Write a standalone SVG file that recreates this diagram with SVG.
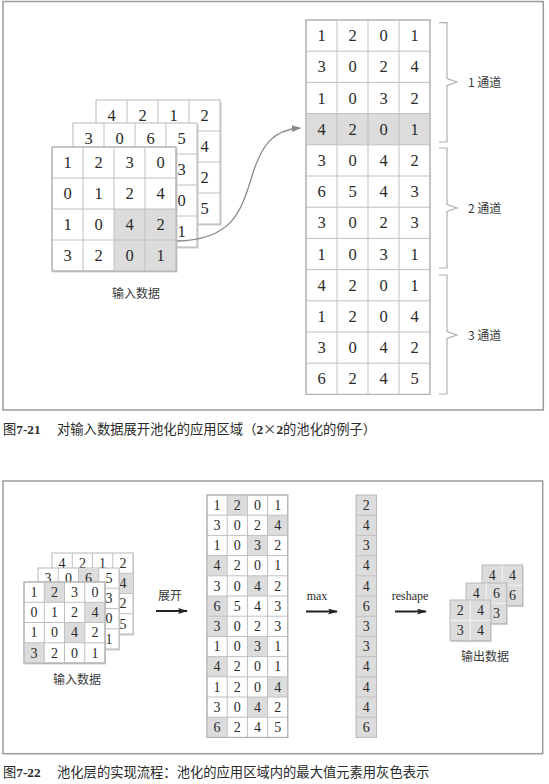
<svg xmlns="http://www.w3.org/2000/svg" width="549" height="784" viewBox="0 0 549 784">
<style>
.bg{fill:#fff}
.frame{fill:none;stroke:#9a9a9a;stroke-width:1.5}
.grid{fill:#fff;stroke:#b8b8b8;stroke-width:1}
.gl{fill:none;stroke:#c0c0c0;stroke-width:1}
.sh{fill:#cfcfcf}
.gray{fill:#dcdcdc}
.d{font-family:"Liberation Serif",serif;font-size:16.5px;text-anchor:middle;fill:#2a2a2a}
.ds{font-family:"Liberation Serif",serif;font-size:14px;text-anchor:middle;fill:#2a2a2a}
.lbl{font-family:"Noto Sans CJK SC",sans-serif;font-size:12px;fill:#3a3a3a}
.lc{text-anchor:middle}
.sl{font-family:"Liberation Serif",serif;font-size:12px;text-anchor:middle;fill:#2a2a2a}
.brace{fill:none;stroke:#b0b0b0;stroke-width:1.2}
.cap{font-family:"Noto Sans CJK SC",sans-serif;font-size:13.3px;fill:#2a2a2a}
.capn{font-family:"Liberation Serif",serif;font-weight:bold}
.arr{stroke:#222;stroke-width:2;fill:none}
</style>
<defs>
<marker id="ah" markerWidth="10" markerHeight="6" refX="9" refY="3" orient="auto" markerUnits="userSpaceOnUse">
<path d="M0,0 L10,3 L0,6 L2,3 z" fill="#222"/>
</marker>
<marker id="ahg" markerWidth="9" markerHeight="7" refX="8" refY="3.5" orient="auto" markerUnits="userSpaceOnUse">
<path d="M0,0 L9,3.5 L0,7 z" fill="#8a8a8a"/>
</marker>
</defs>
<rect class="bg" x="0" y="0" width="549" height="784"/>
<rect class="frame" x="3" y="1.5" width="540.3" height="408.5"/>
<rect class="frame" x="3" y="481" width="539.7" height="272.7"/>

<!-- ===== Figure 7-21 ===== -->
<g id="input-stack-top">
  <g id="in1-ch3">
    <rect class="sh" x="97.5" y="101.5" width="124" height="124"/>
    <rect class="grid" x="96" y="100" width="124" height="124"/>
    <path class="gl" d="M127,100V224M158,100V224M189,100V224M96,131H220M96,162H220M96,193H220"/>
    <text class="d" x="111.5" y="121">4</text><text class="d" x="142.5" y="121">2</text><text class="d" x="173.5" y="121">1</text><text class="d" x="204.5" y="121">2</text>
    <text class="d" x="204.5" y="152">4</text><text class="d" x="204.5" y="183">2</text><text class="d" x="204.5" y="214">5</text>
  </g>
  <g id="in1-ch2">
    <rect class="sh" x="74.5" y="124.5" width="124" height="124"/>
    <rect class="grid" x="73" y="123" width="124" height="124"/>
    <path class="gl" d="M104,123V247M135,123V247M166,123V247M73,154H197M73,185H197M73,216H197"/>
    <text class="d" x="88.5" y="144">3</text><text class="d" x="119.5" y="144">0</text><text class="d" x="150.5" y="144">6</text><text class="d" x="181.5" y="144">5</text>
    <text class="d" x="181.5" y="175">3</text><text class="d" x="181.5" y="206">0</text><text class="d" x="181.5" y="237">1</text>
  </g>
  <g id="in1-ch1">
    <rect class="sh" x="53.5" y="148.5" width="124" height="124"/>
    <rect class="grid" x="52" y="147" width="124" height="124"/>
    <rect class="gray" x="114" y="209" width="62" height="62"/>
    <path class="gl" d="M83,147V271M114,147V271M145,147V271M52,178H176M52,209H176M52,240H176"/>
    <rect x="52" y="147" width="124" height="124" fill="none" stroke="#b0b0b0"/>
    <text class="d" x="67.5" y="168">1</text><text class="d" x="98.5" y="168">2</text><text class="d" x="129.5" y="168">3</text><text class="d" x="160.5" y="168">0</text>
    <text class="d" x="67.5" y="199">0</text><text class="d" x="98.5" y="199">1</text><text class="d" x="129.5" y="199">2</text><text class="d" x="160.5" y="199">4</text>
    <text class="d" x="67.5" y="230">1</text><text class="d" x="98.5" y="230">0</text><text class="d" x="129.5" y="230">4</text><text class="d" x="160.5" y="230">2</text>
    <text class="d" x="67.5" y="261">3</text><text class="d" x="98.5" y="261">2</text><text class="d" x="129.5" y="261">0</text><text class="d" x="160.5" y="261">1</text>
  </g>
  <text class="lbl lc" x="136" y="298">输入数据</text>
</g>

<g id="col-matrix-top">
  <rect class="grid" x="306" y="20" width="124" height="374.4"/>
  <rect class="gray" x="306" y="113.6" width="124" height="31.2"/>
  <path class="gl" d="M337,20V394.4M368,20V394.4M399,20V394.4M306,51.2H430M306,82.4H430M306,113.6H430M306,144.8H430M306,176H430M306,207.2H430M306,238.4H430M306,269.6H430M306,300.8H430M306,332H430M306,363.2H430"/>
  <rect x="306" y="20" width="124" height="374.4" fill="none" stroke="#b0b0b0"/>
  <text class="d" x="321.5" y="41.1">1</text><text class="d" x="352.5" y="41.1">2</text><text class="d" x="383.5" y="41.1">0</text><text class="d" x="414.5" y="41.1">1</text>
  <text class="d" x="321.5" y="72.3">3</text><text class="d" x="352.5" y="72.3">0</text><text class="d" x="383.5" y="72.3">2</text><text class="d" x="414.5" y="72.3">4</text>
  <text class="d" x="321.5" y="103.5">1</text><text class="d" x="352.5" y="103.5">0</text><text class="d" x="383.5" y="103.5">3</text><text class="d" x="414.5" y="103.5">2</text>
  <text class="d" x="321.5" y="134.7">4</text><text class="d" x="352.5" y="134.7">2</text><text class="d" x="383.5" y="134.7">0</text><text class="d" x="414.5" y="134.7">1</text>
  <text class="d" x="321.5" y="165.9">3</text><text class="d" x="352.5" y="165.9">0</text><text class="d" x="383.5" y="165.9">4</text><text class="d" x="414.5" y="165.9">2</text>
  <text class="d" x="321.5" y="197.1">6</text><text class="d" x="352.5" y="197.1">5</text><text class="d" x="383.5" y="197.1">4</text><text class="d" x="414.5" y="197.1">3</text>
  <text class="d" x="321.5" y="228.3">3</text><text class="d" x="352.5" y="228.3">0</text><text class="d" x="383.5" y="228.3">2</text><text class="d" x="414.5" y="228.3">3</text>
  <text class="d" x="321.5" y="259.5">1</text><text class="d" x="352.5" y="259.5">0</text><text class="d" x="383.5" y="259.5">3</text><text class="d" x="414.5" y="259.5">1</text>
  <text class="d" x="321.5" y="290.7">4</text><text class="d" x="352.5" y="290.7">2</text><text class="d" x="383.5" y="290.7">0</text><text class="d" x="414.5" y="290.7">1</text>
  <text class="d" x="321.5" y="321.9">1</text><text class="d" x="352.5" y="321.9">2</text><text class="d" x="383.5" y="321.9">0</text><text class="d" x="414.5" y="321.9">4</text>
  <text class="d" x="321.5" y="353.1">3</text><text class="d" x="352.5" y="353.1">0</text><text class="d" x="383.5" y="353.1">4</text><text class="d" x="414.5" y="353.1">2</text>
  <text class="d" x="321.5" y="384.3">6</text><text class="d" x="352.5" y="384.3">2</text><text class="d" x="383.5" y="384.3">4</text><text class="d" x="414.5" y="384.3">5</text>
</g>

<g id="brace-ch1">
  <path class="brace" d="M439,22.7H447V78.5L457,82L447,85.5V142H439"/>
  <text class="lbl" x="468" y="86.5">1 通道</text>
</g>
<g id="brace-ch2">
  <path class="brace" d="M439,148H447V204.5L457,208L447,211.5V268H439"/>
  <text class="lbl" x="468" y="212.5">2 通道</text>
</g>
<g id="brace-ch3">
  <path class="brace" d="M439,275H447V331.5L457,335L447,338.5V394H439"/>
  <text class="lbl" x="468" y="339.5">3 通道</text>
</g>

<text class="cap" x="3" y="434">图<tspan class="capn">7-21</tspan><tspan x="57">对输入数据展开池化的应用区域（</tspan><tspan font-family="Liberation Serif" font-weight="bold">2</tspan>×<tspan font-family="Liberation Serif" font-weight="bold">2</tspan>的池化的例子）</text>

<!-- ===== Figure 7-22 ===== -->
<g id="input-stack-bottom">
  <g id="in2-ch3">
    <rect class="sh" x="53" y="554.5" width="81" height="81"/>
    <rect class="grid" x="52" y="553" width="81" height="81"/>
    <rect class="gray" x="112.75" y="573.25" width="20.25" height="20.25"/>
    <path class="gl" d="M72.25,553V634M92.5,553V634M112.75,553V634M52,573.25H133M52,593.5H133M52,613.75H133"/>
    <text class="ds" x="62.1" y="567.8">4</text><text class="ds" x="82.4" y="567.8">2</text><text class="ds" x="102.6" y="567.8">1</text><text class="ds" x="122.9" y="567.8">2</text>
    <text class="ds" x="122.9" y="588.1">4</text><text class="ds" x="122.9" y="608.3">2</text><text class="ds" x="122.9" y="628.6">5</text>
  </g>
  <g id="in2-ch2">
    <rect class="sh" x="39" y="569.5" width="81" height="81"/>
    <rect class="grid" x="38" y="568" width="81" height="81"/>
    <rect class="gray" x="78.5" y="568" width="20.25" height="20.25"/>
    <path class="gl" d="M58.25,568V649M78.5,568V649M98.75,568V649M38,588.25H119M38,608.5H119M38,628.75H119"/>
    <text class="ds" x="48.1" y="582.8">3</text><text class="ds" x="68.4" y="582.8">0</text><text class="ds" x="88.6" y="582.8">6</text><text class="ds" x="108.9" y="582.8">5</text>
    <text class="ds" x="108.9" y="603.1">3</text><text class="ds" x="108.9" y="623.3">0</text><text class="ds" x="108.9" y="643.6">1</text>
  </g>
  <g id="in2-ch1">
    <rect class="sh" x="25" y="583.5" width="81" height="81"/>
    <rect class="grid" x="24" y="582" width="81" height="81"/>
    <rect class="gray" x="44.25" y="582" width="20.25" height="20.25"/>
    <rect class="gray" x="84.75" y="602.25" width="20.25" height="20.25"/>
    <rect class="gray" x="64.5" y="622.5" width="20.25" height="20.25"/>
    <rect class="gray" x="24" y="642.75" width="20.25" height="20.25"/>
    <path class="gl" d="M44.25,582V663M64.5,582V663M84.75,582V663M24,602.25H105M24,622.5H105M24,642.75H105"/>
    <rect x="24" y="582" width="81" height="81" fill="none" stroke="#b0b0b0"/>
    <text class="ds" x="34.1" y="596.8">1</text><text class="ds" x="54.4" y="596.8">2</text><text class="ds" x="74.6" y="596.8">3</text><text class="ds" x="94.9" y="596.8">0</text>
    <text class="ds" x="34.1" y="617.1">0</text><text class="ds" x="54.4" y="617.1">1</text><text class="ds" x="74.6" y="617.1">2</text><text class="ds" x="94.9" y="617.1">4</text>
    <text class="ds" x="34.1" y="637.3">1</text><text class="ds" x="54.4" y="637.3">0</text><text class="ds" x="74.6" y="637.3">4</text><text class="ds" x="94.9" y="637.3">2</text>
    <text class="ds" x="34.1" y="657.6">3</text><text class="ds" x="54.4" y="657.6">2</text><text class="ds" x="74.6" y="657.6">0</text><text class="ds" x="94.9" y="657.6">1</text>
  </g>
  <text class="lbl lc" x="77" y="683.5">输入数据</text>
</g>

<g id="col-matrix-bottom">
  <rect class="grid" x="207" y="495" width="80.8" height="242.4"/>
  <rect class="gray" x="227.2" y="495" width="20.2" height="20.2"/>
  <rect class="gray" x="267.6" y="515.2" width="20.2" height="20.2"/>
  <rect class="gray" x="247.4" y="535.4" width="20.2" height="20.2"/>
  <rect class="gray" x="207" y="555.6" width="20.2" height="20.2"/>
  <rect class="gray" x="247.4" y="575.8" width="20.2" height="20.2"/>
  <rect class="gray" x="207" y="596" width="20.2" height="20.2"/>
  <rect class="gray" x="207" y="616.2" width="20.2" height="20.2"/>
  <rect class="gray" x="247.4" y="636.4" width="20.2" height="20.2"/>
  <rect class="gray" x="207" y="656.6" width="20.2" height="20.2"/>
  <rect class="gray" x="267.6" y="676.8" width="20.2" height="20.2"/>
  <rect class="gray" x="247.4" y="697" width="20.2" height="20.2"/>
  <rect class="gray" x="207" y="717.2" width="20.2" height="20.2"/>
  <path class="gl" d="M227.2,495V737.4M247.4,495V737.4M267.6,495V737.4M207,515.2H287.8M207,535.4H287.8M207,555.6H287.8M207,575.8H287.8M207,596H287.8M207,616.2H287.8M207,636.4H287.8M207,656.6H287.8M207,676.8H287.8M207,697H287.8M207,717.2H287.8"/>
  <rect x="207" y="495" width="80.8" height="242.4" fill="none" stroke="#b0b0b0"/>
  <text class="ds" x="217.1" y="509.8">1</text><text class="ds" x="237.3" y="509.8">2</text><text class="ds" x="257.5" y="509.8">0</text><text class="ds" x="277.7" y="509.8">1</text>
  <text class="ds" x="217.1" y="530">3</text><text class="ds" x="237.3" y="530">0</text><text class="ds" x="257.5" y="530">2</text><text class="ds" x="277.7" y="530">4</text>
  <text class="ds" x="217.1" y="550.2">1</text><text class="ds" x="237.3" y="550.2">0</text><text class="ds" x="257.5" y="550.2">3</text><text class="ds" x="277.7" y="550.2">2</text>
  <text class="ds" x="217.1" y="570.4">4</text><text class="ds" x="237.3" y="570.4">2</text><text class="ds" x="257.5" y="570.4">0</text><text class="ds" x="277.7" y="570.4">1</text>
  <text class="ds" x="217.1" y="590.6">3</text><text class="ds" x="237.3" y="590.6">0</text><text class="ds" x="257.5" y="590.6">4</text><text class="ds" x="277.7" y="590.6">2</text>
  <text class="ds" x="217.1" y="610.8">6</text><text class="ds" x="237.3" y="610.8">5</text><text class="ds" x="257.5" y="610.8">4</text><text class="ds" x="277.7" y="610.8">3</text>
  <text class="ds" x="217.1" y="631">3</text><text class="ds" x="237.3" y="631">0</text><text class="ds" x="257.5" y="631">2</text><text class="ds" x="277.7" y="631">3</text>
  <text class="ds" x="217.1" y="651.2">1</text><text class="ds" x="237.3" y="651.2">0</text><text class="ds" x="257.5" y="651.2">3</text><text class="ds" x="277.7" y="651.2">1</text>
  <text class="ds" x="217.1" y="671.4">4</text><text class="ds" x="237.3" y="671.4">2</text><text class="ds" x="257.5" y="671.4">0</text><text class="ds" x="277.7" y="671.4">1</text>
  <text class="ds" x="217.1" y="691.6">1</text><text class="ds" x="237.3" y="691.6">2</text><text class="ds" x="257.5" y="691.6">0</text><text class="ds" x="277.7" y="691.6">4</text>
  <text class="ds" x="217.1" y="711.8">3</text><text class="ds" x="237.3" y="711.8">0</text><text class="ds" x="257.5" y="711.8">4</text><text class="ds" x="277.7" y="711.8">2</text>
  <text class="ds" x="217.1" y="732">6</text><text class="ds" x="237.3" y="732">2</text><text class="ds" x="257.5" y="732">4</text><text class="ds" x="277.7" y="732">5</text>
</g>

<g id="max-vector">
  <rect class="gray" x="356" y="495" width="20.5" height="242.4" stroke="#b8b8b8"/>
  <path class="gl" d="M356,515.2H376.5M356,535.4H376.5M356,555.6H376.5M356,575.8H376.5M356,596H376.5M356,616.2H376.5M356,636.4H376.5M356,656.6H376.5M356,676.8H376.5M356,697H376.5M356,717.2H376.5" stroke="#f4f4f4"/>
  <text class="ds" x="366.25" y="509.8">2</text>
  <text class="ds" x="366.25" y="530">4</text>
  <text class="ds" x="366.25" y="550.2">3</text>
  <text class="ds" x="366.25" y="570.4">4</text>
  <text class="ds" x="366.25" y="590.6">4</text>
  <text class="ds" x="366.25" y="610.8">6</text>
  <text class="ds" x="366.25" y="631">3</text>
  <text class="ds" x="366.25" y="651.2">3</text>
  <text class="ds" x="366.25" y="671.4">4</text>
  <text class="ds" x="366.25" y="691.6">4</text>
  <text class="ds" x="366.25" y="711.8">4</text>
  <text class="ds" x="366.25" y="732">6</text>
</g>

<g id="output-stack">
  <g id="out-ch3">
    <rect class="sh" x="483" y="566.5" width="40.6" height="40.6"/>
    <rect class="gray" x="482" y="565" width="40.6" height="40.6" stroke="#b8b8b8"/>
    <path d="M502.3,565V605.6M482,585.3H522.6" stroke="#f4f4f4" fill="none"/>
    <text class="ds" x="492.15" y="579.85">4</text><text class="ds" x="512.45" y="579.85">4</text><text class="ds" x="512.45" y="600.15">6</text>
  </g>
  <g id="out-ch2">
    <rect class="sh" x="467" y="584.5" width="40.6" height="40.6"/>
    <rect class="gray" x="466" y="583" width="40.6" height="40.6" stroke="#b8b8b8"/>
    <path d="M486.3,583V623.6M466,603.3H506.6" stroke="#f4f4f4" fill="none"/>
    <text class="ds" x="476.15" y="597.85">4</text><text class="ds" x="496.45" y="597.85">6</text><text class="ds" x="496.45" y="618.15">3</text>
  </g>
  <g id="out-ch1">
    <rect class="sh" x="451" y="601.5" width="40.6" height="40.6"/>
    <rect class="gray" x="450" y="600" width="40.6" height="40.6" stroke="#b8b8b8"/>
    <path d="M470.3,600V640.6M450,620.3H490.6" stroke="#f4f4f4" fill="none"/>
    <text class="ds" x="460.15" y="614.85">2</text><text class="ds" x="480.45" y="614.85">4</text>
    <text class="ds" x="460.15" y="635.15">3</text><text class="ds" x="480.45" y="635.15">4</text>
  </g>
  <text class="lbl lc" x="485" y="661">输出数据</text>
</g>

<g id="connectors">
  <path d="M177,241 C232,240 241,212 252,176 C262,143 274,130 300,128" fill="none" stroke="#8a8a8a" stroke-width="1.3" marker-end="url(#ahg)"/>
  <line class="arr" x1="156" y1="611" x2="187" y2="611" marker-end="url(#ah)"/>
  <text class="lbl lc" x="170" y="600">展开</text>
  <line class="arr" x1="306" y1="611.5" x2="337" y2="611.5" marker-end="url(#ah)"/>
  <text class="sl" x="317" y="600">max</text>
  <line class="arr" x1="395" y1="611.5" x2="426" y2="611.5" marker-end="url(#ah)"/>
  <text class="sl" x="410" y="600">reshape</text>
</g>

<text class="cap" x="3" y="777">图<tspan class="capn">7-22</tspan><tspan x="57">池化层的实现流程：池化的应用区域内的最大值元素用灰色表示</tspan></text>
</svg>
